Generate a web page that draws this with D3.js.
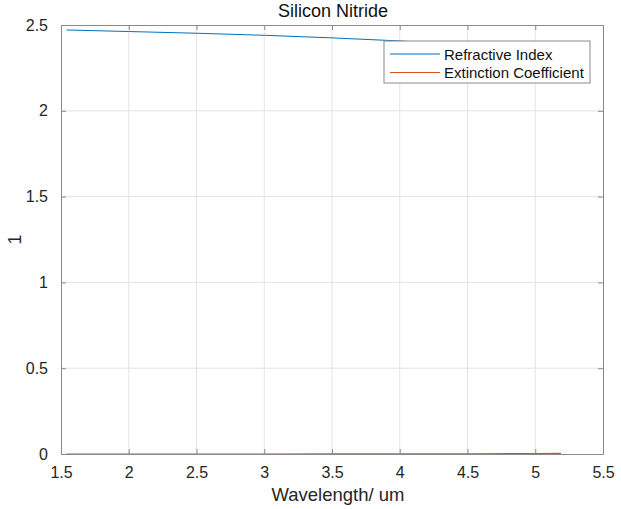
<!DOCTYPE html>
<html>
<head>
<meta charset="utf-8">
<script src="https://cdn.jsdelivr.net/npm/d3@7"></script>
<style>
  html, body { margin: 0; padding: 0; background: #fff; }
  svg { display: block; font-family: "Liberation Sans", Arial, Helvetica, sans-serif; }
</style>
</head>
<body>
<svg id="chart" width="621" height="509"></svg>
<script>
// Silicon nitride optical constants vs wavelength (um)
const wavelength = [1.54, 2.0, 2.5, 3.0, 3.5, 4.0, 4.5, 5.0, 5.19];
const refractiveIndex = [2.471, 2.462, 2.452, 2.440, 2.425, 2.407, 2.386, 2.362, 2.353];
const extinction = [0.0, 0.0, 0.0, 0.0, 0.0005, 0.001, 0.0015, 0.003, 0.004];
const xTicks = [1.5, 2, 2.5, 3, 3.5, 4, 4.5, 5, 5.5];
const yTicks = [0, 0.5, 1, 1.5, 2, 2.5];
const seriesNames = ["Refractive Index", "Extinction Coefficient"];
const seriesColors = ["#0072BD", "#D95319"];

const svg = d3.select("#chart");
const margin = { left: 61, right: 18, top: 25, bottom: 55 };
const W = 621, H = 509;
const x = d3.scaleLinear().domain([1.5, 5.5]).range([margin.left, W - margin.right]);
const y = d3.scaleLinear().domain([0, 2.5]).range([H - margin.bottom, margin.top]);
const textColor = "#262626";
const axisColor = "#8a8a8a";

// grid
const grid = svg.append("g");
grid.selectAll(".gx").data(xTicks.slice(1, -1)).join("line")
  .attr("x1", d => x(d)).attr("x2", d => x(d))
  .attr("y1", y(0)).attr("y2", y(2.5))
  .attr("stroke", "#e3e3e3").attr("stroke-width", 1);
grid.selectAll(".gy").data(yTicks.slice(1, -1)).join("line")
  .attr("x1", x(1.5)).attr("x2", x(5.5))
  .attr("y1", d => y(d)).attr("y2", d => y(d))
  .attr("stroke", "#e3e3e3").attr("stroke-width", 1);

// data lines
const line = vals => d3.line().x((d, i) => x(wavelength[i])).y(d => y(d))(vals);
svg.append("path").attr("d", line(refractiveIndex))
  .attr("fill", "none").attr("stroke", seriesColors[0]).attr("stroke-width", 1);
svg.append("path").attr("d", line(extinction))
  .attr("fill", "none").attr("stroke", seriesColors[1]).attr("stroke-width", 1.2);

// axes (box with inward ticks on all sides)
const tickLen = 5;
const xb = d3.axisBottom(x).tickValues(xTicks).tickSizeInner(-tickLen).tickSizeOuter(0).tickPadding(13).tickFormat(d3.format("~g"));
const xt = d3.axisTop(x).tickValues(xTicks).tickSizeInner(-tickLen).tickSizeOuter(0).tickFormat("");
const yl = d3.axisLeft(y).tickValues(yTicks).tickSizeInner(-tickLen).tickSizeOuter(0).tickPadding(13).tickFormat(d3.format("~g"));
const yr = d3.axisRight(y).tickValues(yTicks).tickSizeInner(-tickLen).tickSizeOuter(0).tickFormat("");

function style(g) {
  g.select(".domain").attr("stroke", axisColor);
  g.selectAll(".tick line").attr("stroke", axisColor);
  g.selectAll(".tick text").attr("fill", textColor).attr("font-size", 16)
    .attr("font-family", "Liberation Sans, Arial, sans-serif");
}
svg.append("g").attr("transform", `translate(0,${y(0)})`).call(xb).call(style);
svg.append("g").attr("transform", `translate(0,${y(2.5)})`).call(xt).call(style);
svg.append("g").attr("transform", `translate(${x(1.5)},0)`).call(yl).call(style);
svg.append("g").attr("transform", `translate(${x(5.5)},0)`).call(yr).call(style);

// title and labels
svg.append("text").attr("x", (x(1.5) + x(5.5)) / 2 + 1).attr("y", 17)
  .attr("text-anchor", "middle").attr("font-size", 18).attr("fill", "#111")
  .text("Silicon Nitride");
svg.append("text").attr("x", (x(1.5) + x(5.5)) / 2 + 6).attr("y", 501)
  .attr("text-anchor", "middle").attr("font-size", 18.5).attr("fill", textColor)
  .text("Wavelength/ um");
svg.append("text").attr("transform", `translate(21,${(y(0) + y(2.5)) / 2}) rotate(-90)`)
  .attr("text-anchor", "middle").attr("font-size", 18).attr("fill", textColor)
  .text("1");

// legend
const lg = svg.append("g").attr("transform", "translate(384,41)");
lg.append("rect").attr("width", 206).attr("height", 42)
  .attr("fill", "#fff").attr("stroke", axisColor).attr("stroke-width", 1);
seriesNames.forEach((name, i) => {
  const cy = 13 + i * 18.5;
  lg.append("line").attr("x1", 6).attr("x2", 56).attr("y1", cy).attr("y2", cy)
    .attr("stroke", seriesColors[i]).attr("stroke-width", 1);
  lg.append("text").attr("x", 60).attr("y", cy + 5.5)
    .attr("font-size", 15).attr("fill", "#111").text(name);
});
</script>
</body>
</html>
